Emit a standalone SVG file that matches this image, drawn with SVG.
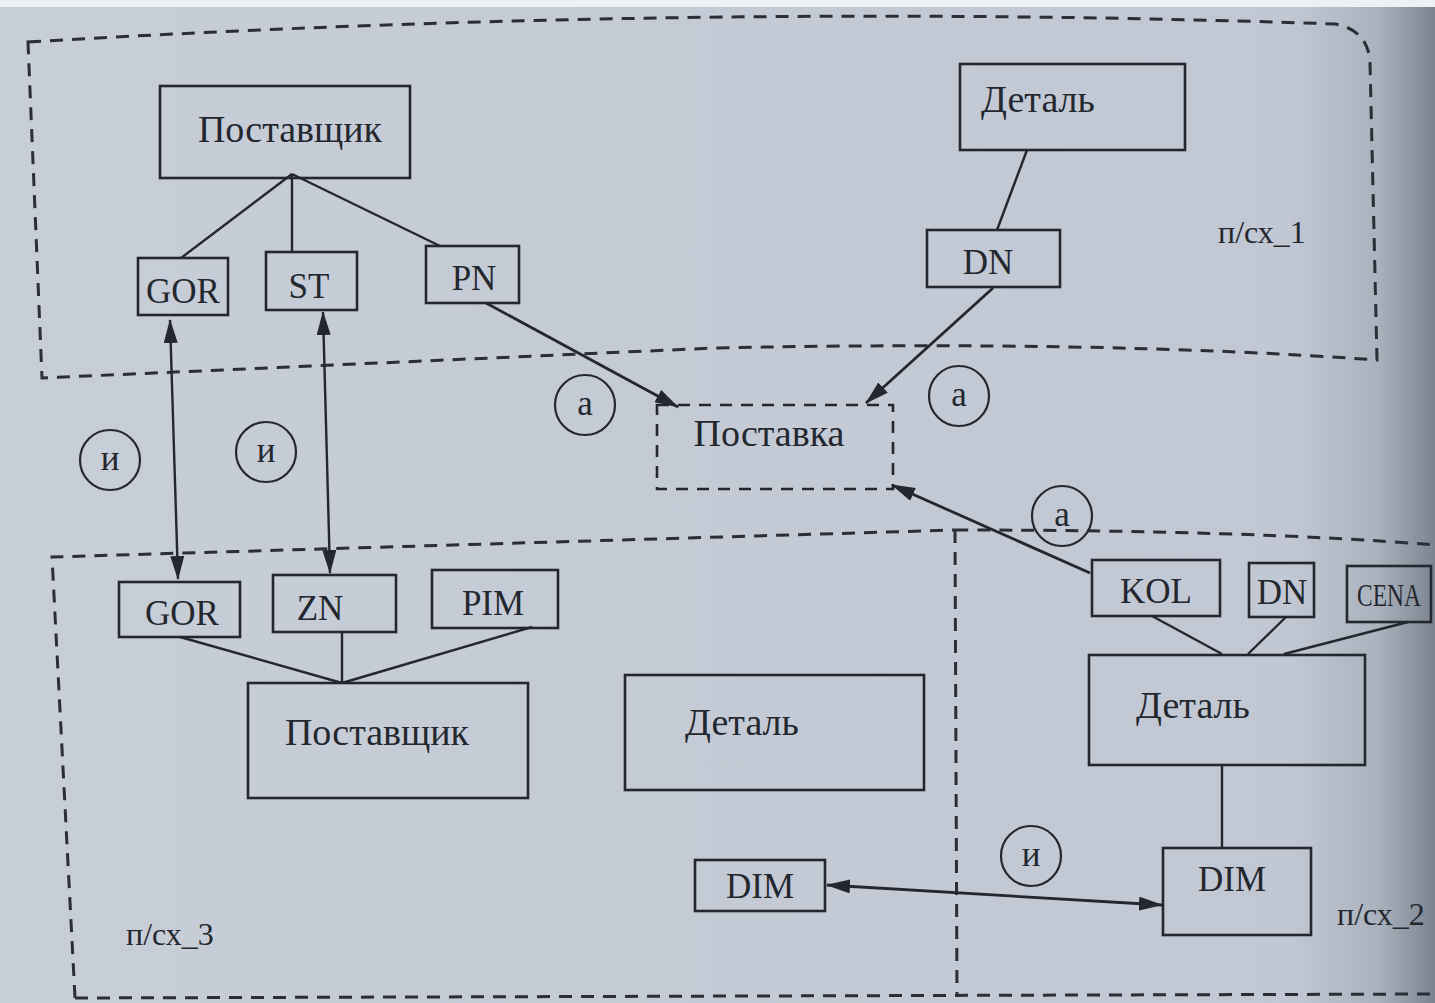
<svg xmlns="http://www.w3.org/2000/svg" width="1435" height="1003" viewBox="0 0 1435 1003">
<defs>
<linearGradient id="bg" x1="0" y1="0" x2="1" y2="0">
<stop offset="0" stop-color="#c8ced8"/>
<stop offset="0.9" stop-color="#c1c8d3"/>
<stop offset="0.96" stop-color="#aab2be"/>
<stop offset="1" stop-color="#7c8491"/>
</linearGradient>
<marker id="ah" viewBox="0 0 24 14" refX="23" refY="7" markerWidth="24" markerHeight="14" markerUnits="userSpaceOnUse" orient="auto-start-reverse">
<path d="M0,0 L24,7 L0,14 Z" fill="#23272e"/>
</marker>
<style>
.box{fill:none;stroke:#23272e;stroke-width:2.6}
.dash{fill:none;stroke:#2a2e36;stroke-width:3;stroke-dasharray:13 9}
.ln{fill:none;stroke:#23272e;stroke-width:2.4}
.arr{fill:none;stroke:#23272e;stroke-width:2.8}
.t{font-family:"Liberation Serif","Times New Roman",serif;fill:#23272e;text-anchor:middle}
.big{font-size:38px}
.att{font-size:35px}
.lab{font-size:32px;text-anchor:start}
.cir{fill:none;stroke:#23272e;stroke-width:2.2}
</style>
</defs>
<rect x="0" y="0" width="1435" height="1003" fill="url(#bg)"/>
<rect x="0" y="0" width="1435" height="7" fill="#eef0f3"/>

<g id="regions">
<path id="psx1" class="dash" d="M28,42 Q700,2 1335,24 Q1368,30 1370,62 L1377,360 Q1100,340 715,348 L42,378 Z"/>
<path id="psx3" class="dash" d="M75,998 L52,557 L955,530"/>
<path id="psx2" class="dash" d="M955,530 Q1250,530 1435,545 M955,530 L957,996 M75,998 L1435,994"/>
</g>

<g id="connectors">
<line class="ln" x1="292" y1="174" x2="181" y2="258"/>
<line class="ln" x1="292" y1="174" x2="292" y2="252"/>
<line class="ln" x1="292" y1="174" x2="440" y2="246"/>
<line class="ln" x1="1027" y1="150" x2="997" y2="230"/>
<line class="arr" x1="486" y1="303" x2="678" y2="407" marker-end="url(#ah)"/>
<line class="arr" x1="993" y1="288" x2="866" y2="403" marker-end="url(#ah)"/>
<line class="arr" x1="1090" y1="573" x2="892" y2="485" marker-end="url(#ah)"/>
<line class="ln" x1="170" y1="320" x2="178" y2="579" marker-start="url(#ah)" marker-end="url(#ah)"/>
<line class="ln" x1="323" y1="312" x2="330" y2="573" marker-start="url(#ah)" marker-end="url(#ah)"/>
<line class="ln" x1="180" y1="637" x2="342" y2="683"/>
<line class="ln" x1="342" y1="633" x2="342" y2="683"/>
<line class="ln" x1="532" y1="627" x2="342" y2="683"/>
<line class="ln" x1="1152" y1="616" x2="1222" y2="654"/>
<line class="ln" x1="1286" y1="617" x2="1248" y2="654"/>
<line class="ln" x1="1408" y1="622" x2="1284" y2="654"/>
<line class="ln" x1="1222" y1="765" x2="1222" y2="848"/>
<line class="arr" x1="827" y1="885" x2="1162" y2="905" marker-start="url(#ah)" marker-end="url(#ah)"/>
</g>

<g id="n-postavshchik1"><rect class="box" x="160" y="86" width="250" height="92"/><text class="t big" x="290" y="142">Поставщик</text></g>
<g id="n-gor1"><rect class="box" x="138" y="258" width="90" height="57"/><text class="t att" x="183" y="303">GOR</text></g>
<g id="n-st1"><rect class="box" x="266" y="252" width="91" height="58"/><text class="t att" x="309" y="298">ST</text></g>
<g id="n-pn1"><rect class="box" x="426" y="246" width="93" height="57"/><text class="t att" x="474" y="290">PN</text></g>
<g id="n-detal1"><rect class="box" x="960" y="64" width="225" height="86"/><text class="t big" x="1038" y="112">Деталь</text></g>
<g id="n-dn1"><rect class="box" x="927" y="230" width="133" height="57"/><text class="t att" x="988" y="274">DN</text></g>
<g id="n-postavka"><rect class="box" x="657" y="405" width="236" height="84" style="stroke-dasharray:12 9"/><text class="t big" x="769" y="446">Поставка</text></g>
<g id="n-gor3"><rect class="box" x="119" y="582" width="121" height="55"/><text class="t att" x="182" y="625">GOR</text></g>
<g id="n-zn3"><rect class="box" x="273" y="575" width="123" height="57"/><text class="t att" x="320" y="620">ZN</text></g>
<g id="n-pim3"><rect class="box" x="432" y="570" width="126" height="58"/><text class="t att" x="493" y="615">PIM</text></g>
<g id="n-postavshchik3"><rect class="box" x="248" y="683" width="280" height="115"/><text class="t big" x="377" y="745">Поставщик</text></g>
<g id="n-detal3"><rect class="box" x="625" y="675" width="299" height="115"/><text class="t big" x="742" y="735">Деталь</text></g>
<g id="n-dim3"><rect class="box" x="695" y="860" width="130" height="51"/><text class="t att" x="760" y="898">DIM</text></g>
<g id="n-kol2"><rect class="box" x="1092" y="560" width="128" height="56"/><text class="t att" x="1156" y="603">KOL</text></g>
<g id="n-dn2"><rect class="box" x="1249" y="563" width="65" height="54"/><text class="t att" x="1282" y="604">DN</text></g>
<g id="n-cena2"><rect class="box" x="1347" y="566" width="84" height="56"/><text class="t att" x="1389" y="606" textLength="64" lengthAdjust="spacingAndGlyphs" style="font-size:32px">CENA</text></g>
<g id="n-detal2"><rect class="box" x="1089" y="655" width="276" height="110"/><text class="t big" x="1193" y="718">Деталь</text></g>
<g id="n-dim2"><rect class="box" x="1163" y="848" width="148" height="87"/><text class="t att" x="1232" y="891">DIM</text></g>

<g id="circles">
<g id="c-a1"><circle class="cir" cx="585" cy="405" r="30"/><text class="t att" x="585" y="415">a</text></g>
<g id="c-a2"><circle class="cir" cx="959" cy="396" r="30"/><text class="t att" x="959" y="406">a</text></g>
<g id="c-a3"><circle class="cir" cx="1062" cy="516" r="30"/><text class="t att" x="1062" y="526">a</text></g>
<g id="c-i1"><circle class="cir" cx="110" cy="460" r="30"/><text class="t att" x="110" y="470">и</text></g>
<g id="c-i2"><circle class="cir" cx="266" cy="452" r="30"/><text class="t att" x="266" y="462">и</text></g>
<g id="c-i3"><circle class="cir" cx="1031" cy="856" r="30"/><text class="t att" x="1031" y="866">и</text></g>
</g>

<g id="labels">
<text class="t lab" x="1218" y="243">п/сх_1</text>
<text class="t lab" x="1337" y="925">п/сх_2</text>
<text class="t lab" x="126" y="945">п/сх_3</text>
</g>
</svg>
